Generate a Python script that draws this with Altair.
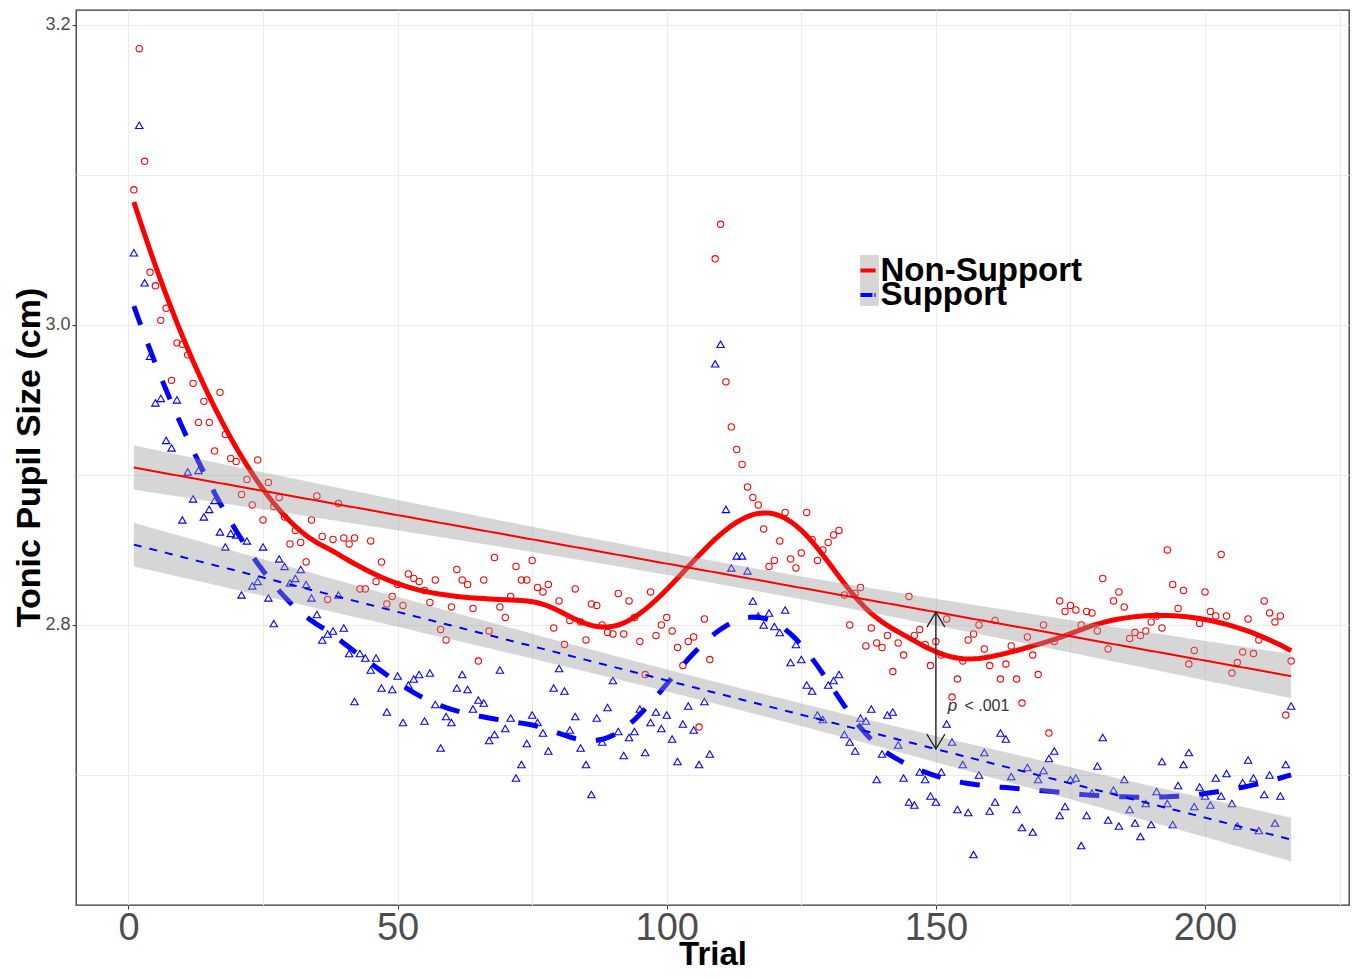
import altair as alt
import numpy as np
import pandas as pd

trials = list(range(1, 217))
groups = ["Non-Support", "Support"]

non_support = [
    3.090, 3.184, 3.109, 3.035, 3.026, 3.003, 3.011, 2.963, 2.988, 2.987,
    2.980, 2.961, 2.935, 2.949, 2.935, 2.916, 2.955, 2.927, 2.911, 2.909,
    2.887, 2.897, 2.880, 2.910, 2.870, 2.895, 2.879, 2.885, 2.872, 2.854,
    2.863, 2.855, 2.842, 2.870, 2.886, 2.859, 2.817, 2.857, 2.881, 2.858,
    2.854, 2.858, 2.824, 2.824, 2.856, 2.829, 2.842, 2.814, 2.819, 2.827,
    2.813, 2.834, 2.831, 2.829, 2.823, 2.815, 2.830, 2.797, 2.790, 2.812,
    2.837, 2.830, 2.827, 2.811, 2.776, 2.830, 2.796, 2.845, 2.812, 2.805,
    2.819, 2.839, 2.830, 2.830, 2.843, 2.825, 2.822, 2.827, 2.798, 2.816,
    2.787, 2.803, 2.824, 2.802, 2.790, 2.814, 2.813, 2.800, 2.795, 2.794,
    2.821, 2.794, 2.816, 2.805, 2.789, 2.767, 2.822, 2.793, 2.800, 2.805,
    2.796, 2.785, 2.773, 2.789, 2.792, 2.732, 2.804, 2.777, 3.044, 3.067,
    2.962, 2.932, 2.917, 2.907, 2.892, 2.885, 2.880, 2.864, 2.839, 2.843,
    2.856, 2.875, 2.844, 2.838, 2.848, 2.875, 2.857, 2.843, 2.850, 2.855,
    2.860, 2.863, 2.820, 2.800, 2.821, 2.825, 2.786, 2.798, 2.788, 2.785,
    2.793, 2.769, 2.788, 2.780, 2.819, 2.793, 2.797, 2.787, 2.773, 2.789,
    2.780, 2.804, 2.752, 2.764, 2.776, 2.790, 2.794, 2.800, 2.784, 2.773,
    2.803, 2.764, 2.774, 2.786, 2.764, 2.748, 2.792, 2.780, 2.767, 2.800,
    2.728, 2.789, 2.816, 2.809, 2.813, 2.810, 2.800, 2.809, 2.808, 2.796,
    2.831, 2.784, 2.816, 2.822, 2.812, 2.791, 2.795, 2.793, 2.796, 2.802,
    2.806, 2.798, 2.850, 2.827, 2.811, 2.823, 2.774, 2.783, 2.801, 2.822,
    2.809, 2.806, 2.847, 2.806, 2.768, 2.775, 2.782, 2.804, 2.781, 2.790,
    2.816, 2.808, 2.802, 2.806, 2.740, 2.776,
]

support = [
    3.048, 3.133, 3.028, 2.979, 2.948, 2.951, 2.923, 2.918, 2.950, 2.870,
    2.902, 2.884, 2.903, 2.872, 2.877, 2.883, 2.862, 2.852, 2.861, 2.860,
    2.820, 2.856, 2.826, 2.829, 2.852, 2.818, 2.801, 2.844, 2.839, 2.828,
    2.831, 2.837, 2.827, 2.818, 2.807, 2.790, 2.794, 2.796, 2.820, 2.798,
    2.781, 2.749, 2.781, 2.778, 2.770, 2.778, 2.758, 2.742, 2.757, 2.766,
    2.735, 2.760, 2.764, 2.767, 2.736, 2.768, 2.747, 2.718, 2.739, 2.735,
    2.758, 2.767, 2.757, 2.744, 2.750, 2.748, 2.723, 2.727, 2.770, 2.731,
    2.738, 2.698, 2.707, 2.721, 2.740, 2.735, 2.728, 2.716, 2.758, 2.771,
    2.756, 2.730, 2.739, 2.718, 2.707, 2.687, 2.738, 2.722, 2.745, 2.763,
    2.729, 2.713, 2.725, 2.729, 2.744, 2.715, 2.735, 2.742, 2.731, 2.740,
    2.724, 2.709, 2.734, 2.746, 2.730, 2.707, 2.749, 2.714, 2.974, 2.987,
    2.877, 2.838, 2.846, 2.846, 2.836, 2.816, 2.806, 2.800, 2.808, 2.799,
    2.795, 2.810, 2.775, 2.787, 2.777, 2.760, 2.756, 2.740, 2.737, 2.760,
    2.763, 2.767, 2.727, 2.722, 2.716, 2.738, 2.736, 2.744, 2.697, 2.714,
    2.740, 2.742, 2.720, 2.698, 2.682, 2.680, 2.702, 2.697, 2.686, 2.682,
    2.702, 2.734, 2.722, 2.677, 2.707, 2.675, 2.647, 2.700, 2.715, 2.676,
    2.682, 2.728, 2.724, 2.699, 2.677, 2.665, 2.705, 2.662, 2.697, 2.703,
    2.711, 2.716, 2.673, 2.679, 2.697, 2.698, 2.653, 2.673, 2.688, 2.706,
    2.725, 2.670, 2.690, 2.666, 2.697, 2.677, 2.668, 2.659, 2.681, 2.667,
    2.689, 2.709, 2.681, 2.667, 2.693, 2.707, 2.715, 2.679, 2.692, 2.686,
    2.680, 2.698, 2.686, 2.701, 2.681, 2.666, 2.695, 2.710, 2.698, 2.663,
    2.687, 2.700, 2.668, 2.686, 2.707, 2.746,
]

x_ticks = [0, 25, 50, 75, 100, 125, 150, 175, 200, 225]
y_ticks = [2.7, 2.8, 2.9, 3.0, 3.1, 3.2]
x_domain = [-9.75, 226.75]
y_domain = [2.6134, 3.2098]
arrow_trial = 150
p_label_italic = "p"
p_label_rest = "< .001"
p_label_trials = [152.2, 155.3]
p_label_value = 2.746
loess_span = 0.35

# ---- derived statistics (computed from the data above) ----
points = pd.DataFrame({
    "trial": trials * 2,
    "value": non_support + support,
    "group": [groups[0]] * len(trials) + [groups[1]] * len(trials),
})


def linear_fit(values):
    x = np.array(trials, dtype=float)
    y = np.array(values, dtype=float)
    n = len(x)
    b1, b0 = np.polyfit(x, y, 1)
    fit = b0 + b1 * x
    s = np.sqrt(((y - fit) ** 2).sum() / (n - 2))
    sxx = ((x - x.mean()) ** 2).sum()
    se = s * np.sqrt(1.0 / n + (x - x.mean()) ** 2 / sxx)
    t = 1.9712
    return fit, fit - t * se, fit + t * se


def loess_quadratic(values, span):
    # local quadratic regression with tricube weights (R loess default degree 2)
    x = np.array(trials, dtype=float)
    y = np.array(values, dtype=float)
    n = len(x)
    q = int(np.floor(n * span))
    out = []
    for x0 in x:
        d = np.abs(x - x0)
        h = np.sort(d)[q - 1]
        w = np.clip(1 - (d / h) ** 3, 0, None) ** 3
        A = np.vstack([np.ones(n), x - x0, (x - x0) ** 2]).T
        sw = np.sqrt(w)
        beta = np.linalg.lstsq(A * sw[:, None], y * sw, rcond=None)[0]
        out.append(beta[0])
    return out


rows = []
smooth_rows = []
for g, vals in zip(groups, [non_support, support]):
    fit, lo, hi = linear_fit(vals)
    for tr, f, l, h in zip(trials, fit, lo, hi):
        rows.append({"trial": tr, "value": f, "lo": l, "hi": h, "group": g, "key": "band"})
    for tr, s in zip(trials, loess_quadratic(vals, loess_span)):
        smooth_rows.append({"trial": tr, "value": s, "group": g})
lm = pd.DataFrame(rows)
smooth = pd.DataFrame(smooth_rows)

fit_ns = lm[(lm.group == groups[0]) & (lm.trial == arrow_trial)]["value"].iloc[0]
fit_s = lm[(lm.group == groups[1]) & (lm.trial == arrow_trial)]["value"].iloc[0]
arrow = pd.DataFrame({"trial": [arrow_trial], "value": [fit_s], "value2": [fit_ns]})
heads = pd.DataFrame({"trial": [arrow_trial, arrow_trial], "value": [fit_ns, fit_s],
                      "dir": ["up", "down"]})
label_df = pd.DataFrame({"trial": p_label_trials,
                         "value": [p_label_value] * 2,
                         "txt": [p_label_italic, p_label_rest],
                         "style": ["italic", "normal"]})

# ---- shared encodings ----
x_axis = alt.Axis(
    values=x_ticks, title="Trial",
    labelExpr="datum.value % 50 === 0 ? datum.label : ''",
    tickOpacity={"condition": {"test": "datum.value % 50 === 0", "value": 1}, "value": 0},
    labelFont="Liberation Sans", labelFontSize=38, labelColor="#4d4d4d",
    labelPadding=0, tickSize=4, tickColor="#333333",
    titleFont="Liberation Sans", titleFontSize=33, titleFontWeight="bold", titleColor="black",
    titleY=59, titleBaseline="alphabetic", labelFlush=False,
)
y_axis = alt.Axis(
    values=y_ticks, title="Tonic Pupil Size (cm)",
    labelExpr="round(datum.value * 10) % 2 === 0 ? format(datum.value, '.1f') : ''",
    tickOpacity={"condition": {"test": "round(datum.value * 10) % 2 === 0", "value": 1}, "value": 0},
    labelFont="Liberation Sans", labelFontSize=18, labelColor="#4d4d4d",
    labelPadding=2, tickSize=4, tickColor="#333333",
    titleFont="Liberation Sans", titleFontSize=34, titleFontWeight="bold", titleColor="black",
    titleX=-37, titleY=447, titleAngle=-90, titleBaseline="alphabetic", titleAlign="center",
    labelFlush=False,
)
xs = alt.Scale(domain=x_domain, nice=False, zero=False)
ys = alt.Scale(domain=y_domain, nice=False, zero=False)
X = alt.X("trial:Q", scale=xs, axis=x_axis)
Y = alt.Y("value:Q", scale=ys, axis=y_axis)

base_pts = alt.Chart(points)
red_pts = base_pts.transform_filter(alt.datum.group == groups[0]).mark_point(
    shape="circle", filled=False, size=40, strokeWidth=1.1, color="#ff0000", opacity=1
).encode(x=X, y=Y)
blue_pts = base_pts.transform_filter(alt.datum.group == groups[1]).mark_point(
    shape="triangle-up", filled=False, size=55, strokeWidth=1.1, color="#0000ff", opacity=1
).encode(x=X, y=Y)

legend_common = dict(title=None, orient="none",
                     labelFont="Liberation Sans", labelFontSize=33, labelFontWeight="bold",
                     labelColor="black", labelLimit=500, labelOffset=0, padding=0)
key_line = "M -0.44 0 H 1.44"

loess_red = alt.Chart(smooth).transform_filter(alt.datum.group == groups[0]).mark_line(
    strokeWidth=5).encode(
    x=X, y=Y,
    stroke=alt.Stroke("group:N", scale=alt.Scale(domain=[groups[0]], range=["#ff0000"]),
                      legend=alt.Legend(legendX=771.5, legendY=244, symbolType=key_line,
                                        symbolSize=256, symbolStrokeWidth=4, zindex=1,
                                        **legend_common)),
)
loess_blue = alt.Chart(smooth).transform_filter(alt.datum.group == groups[1]).mark_line(
    strokeWidth=5, strokeDash=[20, 20]).encode(
    x=X, y=Y,
    stroke=alt.Stroke("group:N", scale=alt.Scale(domain=[groups[1]], range=["#0000ff"]),
                      legend=alt.Legend(legendX=771.5, legendY=268.5, symbolType=key_line,
                                        symbolSize=256, symbolStrokeWidth=4, symbolDash=[12, 2],
                                        zindex=1, **legend_common)),
)

band = alt.Chart(lm).mark_area(opacity=0.4).encode(
    x=X, y=alt.Y("lo:Q", scale=ys, axis=y_axis), y2="hi:Q",
    fill=alt.Fill("key:N", scale=alt.Scale(domain=["band"], range=["#999999"]),
                  legend=alt.Legend(title=None, orient="none", legendX=768, legendY=245,
                                    symbolType="M-0.37,-1H0.37V1H-0.37Z", symbolSize=2601,
                                    symbolStrokeWidth=0, symbolOpacity=0.4, labelExpr="''",
                                    padding=0, zindex=0)),
    detail="group:N",
)

lm_red = alt.Chart(lm).transform_filter(alt.datum.group == groups[0]).mark_line(
    strokeWidth=2, color="#ff0000").encode(x=X, y=Y)
lm_blue = alt.Chart(lm).transform_filter(alt.datum.group == groups[1]).mark_line(
    strokeWidth=2, color="#0000ff", strokeDash=[8, 8]).encode(x=X, y=Y)

arrow_rule = alt.Chart(arrow).mark_rule(color="#222222", strokeWidth=1.4).encode(
    x=X, y=Y, y2="value2:Q")
head_up = alt.Chart(heads).transform_filter(alt.datum.dir == "up").mark_point(
    shape="M -0.6 1 L 0 0 L 0.6 1", size=900, filled=False, strokeWidth=1.3,
    color="#222222", opacity=1).encode(x=X, y=Y)
head_down = alt.Chart(heads).transform_filter(alt.datum.dir == "down").mark_point(
    shape="M -0.6 -1 L 0 0 L 0.6 -1", size=900, filled=False, strokeWidth=1.3,
    color="#222222", opacity=1).encode(x=X, y=Y)

p_italic = alt.Chart(label_df).transform_filter(alt.datum.style == "italic").mark_text(
    align="left", baseline="middle", font="Liberation Sans", fontSize=17, fontStyle="italic",
    color="#333333"
).encode(x=X, y=Y, text="txt:N")
p_rest = alt.Chart(label_df).transform_filter(alt.datum.style == "normal").mark_text(
    align="left", baseline="middle", font="Liberation Sans", fontSize=16, color="#333333"
).encode(x=X, y=Y, text="txt:N")

chart = alt.layer(
    red_pts, blue_pts, loess_red, loess_blue, band, lm_red, lm_blue,
    arrow_rule, head_up, head_down, p_italic, p_rest
).resolve_scale(
    stroke="independent"
).resolve_legend(
    fill="independent", stroke="independent"
).properties(
    width=1273, height=895,
    autosize=alt.AutoSizeParams(type="none"),
    padding={"left": 68, "top": 2, "right": 2, "bottom": 66},
    background="white",
).configure_view(
    stroke="#333333", strokeWidth=1.3
).configure_axis(
    grid=True, gridColor="#ebebeb", gridWidth=1, domain=False,
)

chart.save("out.html", embed_options={"renderer": "svg", "actions": False})
